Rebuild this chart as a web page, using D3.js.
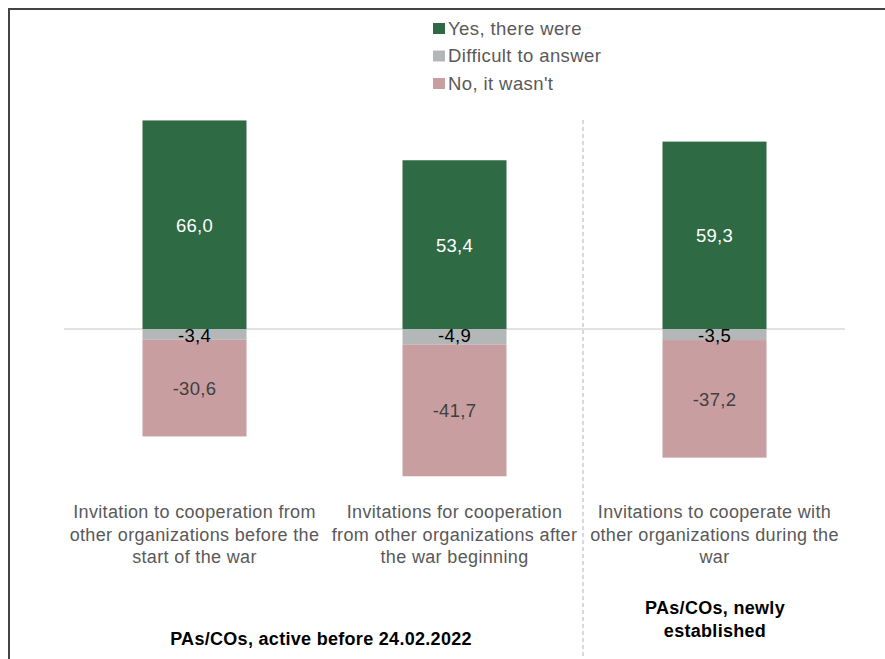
<!DOCTYPE html>
<html lang="en">
<head>
<meta charset="UTF-8">
<title>Invitations to cooperation</title>
<script src="https://d3js.org/d3.v7.min.js"></script>
<style>
    body { margin: 0; background: #fff; }
    text { font-family: "Liberation Sans", Arial, sans-serif; }
    .cat { font-size: 18px; letter-spacing: 0.35px; fill: #595959; text-anchor: middle; }
    .legend text { font-size: 18.5px; letter-spacing: 0.4px; fill: #595959; }
    .group { font-weight: bold; font-size: 18px; letter-spacing: 0.3px; fill: #000; text-anchor: middle; }
    .val { font-size: 18.5px; letter-spacing: 0.3px; text-anchor: middle; }
</style>
</head>
<body>
<svg width="885" height="659"></svg>
<script>
// data
const categories = [
    ["Invitation to cooperation from", "other organizations before the", "start of the war"],
    ["Invitations for cooperation", "from other organizations after", "the war beginning"],
    ["Invitations to cooperate with", "other organizations during the", "war"]
];
const yes = [66.0, 53.4, 59.3];
const difficult = [-3.4, -4.9, -3.5];
const no = [-30.6, -41.7, -37.2];
const seriesNames = ["Yes, there were", "Difficult to answer", "No, it wasn't"];
const colors = ["#2e6b44", "#b4b7b7", "#c89ea0"];
const labelColors = ["#ffffff", "#000000", "#404040"];

const svg = d3.select("svg");

// frame (left + top)
svg.append("path")
    .attr("d", "M9,659 V9 H885")
    .attr("fill", "none")
    .attr("stroke", "#444")
    .attr("stroke-width", 2);

const x = d3.scaleBand()
    .domain(d3.range(categories.length))
    .range([64.5, 844.5])
    .paddingInner(0.6)
    .paddingOuter(0.3);

const y = d3.scaleLinear()
    .domain([-50, 70])
    .range([329 + 50 * 3.16, 329 - 70 * 3.16]);

// zero line
svg.append("line")
    .attr("x1", 64).attr("x2", 845)
    .attr("y1", y(0)).attr("y2", y(0))
    .attr("stroke", "#d9d9d9")
    .attr("stroke-width", 1.5);

// stacked segments
const rows = categories.map((c, i) => {
    const segs = [];
    segs.push({ s: 0, y0: 0, y1: yes[i], v: yes[i] });
    segs.push({ s: 1, y0: 0, y1: difficult[i], v: difficult[i] });
    segs.push({ s: 2, y0: difficult[i], y1: difficult[i] + no[i], v: no[i] });
    return segs.map(d => ({ ...d, i }));
}).flat();

svg.append("g").selectAll("rect")
    .data(rows)
    .join("rect")
    .attr("x", d => x(d.i))
    .attr("width", x.bandwidth())
    .attr("y", d => y(Math.max(d.y0, d.y1)))
    .attr("height", d => Math.abs(y(d.y0) - y(d.y1)))
    .attr("fill", d => colors[d.s]);

const fmt = v => d3.format(".1f")(v).replace(".", ",").replace("−", "-");

svg.append("g").selectAll("text")
    .data(rows)
    .join("text")
    .attr("class", "val")
    .attr("x", d => x(d.i) + x.bandwidth() / 2)
    .attr("y", d => d.s === 1 ? y(0) + 13 : y((d.y0 + d.y1) / 2) + 7)
    .attr("fill", d => labelColors[d.s])
    .text(d => fmt(d.v));

// category labels
const cat = svg.append("g").selectAll("text")
    .data(categories)
    .join("text")
    .attr("class", "cat")
    .attr("x", (d, i) => x(i) + x.bandwidth() / 2)
    .attr("y", 518);
cat.selectAll("tspan")
    .data(d => d)
    .join("tspan")
    .attr("x", function () { return this.parentNode.getAttribute("x"); })
    .attr("dy", (d, j) => j === 0 ? 0 : 22.5)
    .text(d => d);

// separator
svg.append("line")
    .attr("x1", 583).attr("x2", 583)
    .attr("y1", 120).attr("y2", 659)
    .attr("stroke", "#b0b0c8")
    .attr("stroke-dasharray", "4,3");

// group labels
svg.append("text").attr("class", "group")
    .attr("x", 321).attr("y", 645)
    .text("PAs/COs,  active before 24.02.2022");
const g2 = svg.append("text").attr("class", "group").attr("x", 715).attr("y", 614);
g2.append("tspan").attr("x", 715).text("PAs/COs, newly");
g2.append("tspan").attr("x", 715).attr("dy", 23).text("established");

// legend
const legend = svg.append("g").attr("class", "legend")
    .selectAll("g")
    .data(seriesNames)
    .join("g")
    .attr("transform", (d, i) => `translate(433, ${28 + i * 27.5})`);
legend.append("rect")
    .attr("x", 0).attr("y", -5)
    .attr("width", 12).attr("height", 11)
    .attr("fill", (d, i) => colors[i]);
legend.append("text")
    .attr("x", 15).attr("y", 6.5)
    .text(d => d);
</script>
</body>
</html>
